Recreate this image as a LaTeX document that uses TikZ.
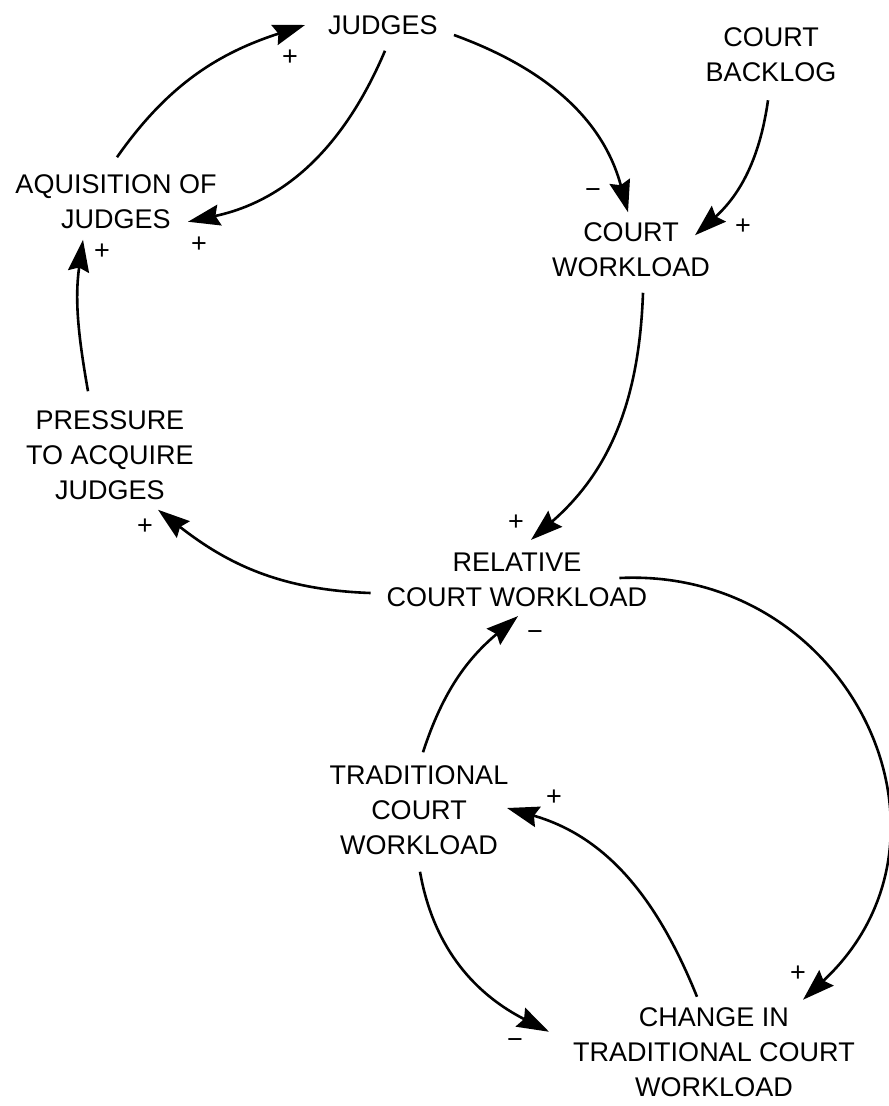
\documentclass[tikz,border=0pt]{standalone}
\usepackage{fontspec}
\setmainfont{Liberation Sans}
\usetikzlibrary{arrows.meta}
\begin{document}
\begin{tikzpicture}[x=1pt,y=-1pt,every node/.style={inner sep=0pt,align=center,font=\fontsize{27}{35}\selectfont},
    sgn/.style={font=\fontsize{27}{27}\selectfont},
    link/.style={line width=2.6pt,-{Stealth[length=32pt,width=21pt,inset=4pt]}}]
        \useasboundingbox (0,0) rectangle (889,1106);
        \node (judges)   at (383,25)    {JUDGES};
        \node (backlog)  at (771,55)    {COURT\\BACKLOG};
        \node (acq)      at (116,201.5) {AQUISITION OF\\JUDGES};
        \node (cwl)      at (631,249.5) {COURT\\WORKLOAD};
        \node (pressure) at (110,455)   {PRESSURE\\TO ACQUIRE\\JUDGES};
        \node (relative) at (517,580)   {RELATIVE\\COURT WORKLOAD};
        \node (trad)     at (419,810)   {TRADITIONAL\\COURT\\WORKLOAD};
        \node (change)   at (714,1052.5) {CHANGE IN\\TRADITIONAL COURT\\WORKLOAD};
        \node[sgn] (s1)  at (290,58)   {+};
        \node[sgn] (s2)  at (199,245)  {+};
        \node[sgn] (s3)  at (593,194)  {−};
        \node[sgn] (s4)  at (743,227)  {+};
        \node[sgn] (s5)  at (516,523)  {+};
        \node[sgn] (s6)  at (145,527)  {+};
        \node[sgn] (s7)  at (102,252)  {+};
        \node[sgn] (s8)  at (535,636)  {−};
        \node[sgn] (s9)  at (798,974)  {+};
        \node[sgn] (s10) at (515,1044) {−};
        \node[sgn] (s11) at (554,798)  {+};
        \draw[link] ([xshift=1pt,yshift=17pt]acq.north) to[out=55,in=198] ([xshift=-23pt]judges.west);
        \draw[link] ([xshift=2pt,yshift=-16pt]judges.south) to[out=247,in=12] ([xshift=72pt,yshift=7pt]acq.south);
        \draw[link] ([xshift=16pt,yshift=-10pt]judges.east) to[out=-20,in=105] ([xshift=-3pt,yshift=10pt]cwl.north);
        \draw[link] ([xshift=-3pt,yshift=-18pt]backlog.south) to[out=262,in=42] ([xshift=64pt,yshift=-13pt]cwl.north);
        \draw[link] ([xshift=12pt,yshift=-16pt]cwl.south) to[out=-92,in=41] ([xshift=14pt,yshift=13pt]relative.north);
        \draw[link] ([xshift=-16pt,yshift=-13pt]relative.west) to[out=178,in=322] ([xshift=48pt,yshift=-10pt]pressure.south);
        \draw[link] ([xshift=-22pt,yshift=19pt]pressure.north) to[out=100,in=262] ([xshift=-33pt,yshift=-11pt]acq.south);
        \draw[link] ([xshift=4pt,yshift=13pt]trad.north) to[out=72,in=220] ([xshift=1pt,yshift=-9pt]relative.south);
        \draw[link] ([xshift=-28pt,yshift=2pt]relative.east) .. controls +(230,-11) and +(175,-163) .. ([xshift=89pt,yshift=8pt]change.north);
        \draw[link] ([xshift=1pt,yshift=-17pt]trad.south) to[out=-80,in=153] ([xshift=-165pt,yshift=-24pt]change.north);
        \draw[link] ([xshift=-17pt,yshift=11pt]change.north) to[out=112,in=344] ([xshift=88pt,yshift=2pt]trad.center);
\end{tikzpicture}
\end{document}
